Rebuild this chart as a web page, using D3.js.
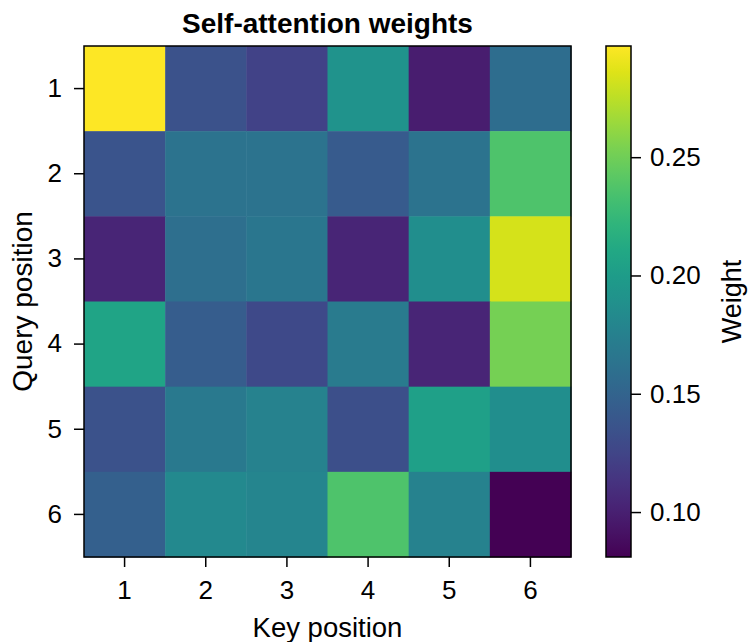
<!DOCTYPE html>
<html><head><meta charset="utf-8">
<script src="https://cdn.jsdelivr.net/npm/d3@7"></script>
<style>body{margin:0;background:#fff}text{font-family:"Liberation Sans",Arial,sans-serif;fill:#000}</style>
</head><body><svg id="c" width="748" height="642"></svg>
<script>
const keys = [1,2,3,4,5,6];
const queries = [1,2,3,4,5,6];
const weights = [
  [0.297,0.135,0.124,0.192,0.098,0.157],
  [0.137,0.163,0.163,0.142,0.163,0.237],
  [0.103,0.159,0.166,0.103,0.187,0.283],
  [0.207,0.144,0.129,0.170,0.103,0.252],
  [0.135,0.168,0.176,0.133,0.203,0.187],
  [0.146,0.183,0.179,0.237,0.176,0.081]
];
const cbTicks = [0.10,0.15,0.20,0.25];

const FONT = "Liberation Sans, Arial, sans-serif";
const svg = d3.select("#c");
const L=84,R=571,T=46,B=557;
const x = d3.scaleBand().domain(keys).range([L,R]);
const y = d3.scaleBand().domain(queries).range([T,B]);
const flat = weights.flat();
const vmin = d3.min(flat), vmax = d3.max(flat);
const color = d3.scaleSequential(d3.interpolateViridis).domain([vmin,vmax]);

const cells = [];
weights.forEach((row,i)=>row.forEach((v,j)=>cells.push({q:queries[i],k:keys[j],v})));
svg.append("g").selectAll("rect").data(cells).join("rect")
  .attr("x",d=>x(d.k)).attr("y",d=>y(d.q))
  .attr("width",x.bandwidth()+0.5).attr("height",y.bandwidth()+0.5)
  .attr("fill",d=>color(d.v));
svg.append("rect").attr("x",L).attr("y",T).attr("width",R-L).attr("height",B-T)
  .attr("fill","none").attr("stroke","#000").attr("stroke-width",1.5);

const xa = svg.append("g").attr("transform",`translate(0,${B})`)
  .call(d3.axisBottom(x).tickSize(10).tickPadding(14));
const ya = svg.append("g").attr("transform",`translate(${L},0)`)
  .call(d3.axisLeft(y).tickSize(10).tickPadding(12));
[xa,ya].forEach(a=>{a.select(".domain").remove();
  a.selectAll("line").attr("stroke","#000").attr("stroke-width",1.5);
  a.selectAll("text").attr("font-size",26).attr("font-family",FONT);});

svg.append("text").attr("x",(L+R)/2).attr("y",32.5).attr("text-anchor","middle")
  .attr("font-size",28).attr("font-weight","bold").text("Self-attention weights");
svg.append("text").attr("x",(L+R)/2).attr("y",637).attr("text-anchor","middle")
  .attr("font-size",27.5).text("Key position");
svg.append("text").attr("transform",`translate(32,${(T+B)/2}) rotate(-90)`).attr("text-anchor","middle")
  .attr("font-size",28).text("Query position");

// colorbar
const CL=606,CR=631;
const cy = d3.scaleLinear().domain([vmin,vmax]).range([B,T]);
const defs = svg.append("defs");
const grad = defs.append("linearGradient").attr("id","g").attr("x1",0).attr("x2",0).attr("y1",1).attr("y2",0);
d3.range(0,1.0001,0.05).forEach(t=>grad.append("stop").attr("offset",t).attr("stop-color",d3.interpolateViridis(t)));
svg.append("rect").attr("x",CL).attr("y",T).attr("width",CR-CL).attr("height",B-T)
  .attr("fill","url(#g)").attr("stroke","#000").attr("stroke-width",1.5);
const ca = svg.append("g").attr("transform",`translate(${CR},0)`)
  .call(d3.axisRight(cy).tickValues(cbTicks).tickFormat(d3.format(".2f")).tickSize(10).tickPadding(9));
ca.select(".domain").remove();
ca.selectAll("line").attr("stroke","#000").attr("stroke-width",1.5);
ca.selectAll("text").attr("font-size",26).attr("font-family",FONT);
svg.append("text").attr("transform",`translate(741,${(T+B)/2}) rotate(-90)`).attr("text-anchor","middle")
  .attr("font-size",27).text("Weight");
</script></body></html>
